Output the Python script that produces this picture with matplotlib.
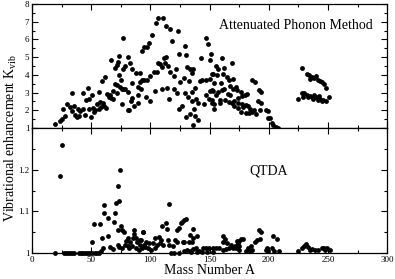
import matplotlib
matplotlib.use("Agg")
import matplotlib.pyplot as plt
from matplotlib.ticker import MultipleLocator, FuncFormatter

# ---- Data: Attenuated Phonon Method (top panel) ----
apm_A = [19.4, 23.3, 25.5, 27.8, 26.1, 29.5, 31.7, 35.1, 33.4, 36.2, 37.9, 40.7, 40.1, 43.5,
         34.0, 43.5, 46.9, 45.7, 48.5, 50.8, 48.0, 51.4, 49.7, 52.0, 53.6, 56.4, 55.3, 57.5,
         59.8, 58.1, 60.9, 62.6, 57.0, 59.2, 61.5, 63.7, 64.8, 66.0, 67.1, 68.8, 68.2, 70.5,
         72.1, 74.4, 76.1, 77.2, 75.5, 73.8, 77.2, 67.1, 73.3, 77.2, 72.1, 76.1, 81.7, 44.9,
         38.5, 70.5, 71.5, 72.5,
         106.7, 110.6, 105.0, 112.9, 116.8, 123.0, 101.0, 98.8, 97.1, 94.9, 92.6, 118.4, 129.0,
         124.6, 129.7, 146.6, 148.3, 143.2, 150.5, 81.4, 83.1, 78.6, 84.8, 87.6, 91.0, 91.5,
         93.2, 94.9, 97.1, 99.4, 103.3, 105.6, 106.7, 108.4, 109.5, 111.7, 113.4, 112.3, 115.1,
         116.8, 120.2, 121.9, 125.2, 128.1, 130.9, 133.7, 135.4, 136.0, 132.6, 141.6, 143.8,
         147.2, 150.0, 78.6, 80.9, 84.3, 84.8, 83.7, 89.3, 89.8, 92.1, 96.0, 99.9, 103.9, 109.5,
         114.0, 115.6, 119.6, 122.4, 124.1, 126.9, 129.2, 131.4, 134.8, 135.4, 137.6, 138.2,
         139.9, 137.1, 129.7, 133.1, 137.6, 139.9, 135.9, 145.0, 147.2, 149.5, 152.3, 154.0,
         81.4, 86.0, 89.8, 152.3, 152.3,
         151.3, 160.9, 168.8, 155.8, 157.5, 162.6, 161.4, 152.5, 156.4, 154.1, 159.8, 164.8,
         166.5, 169.9, 167.6, 150.2, 153.0, 157.0, 160.3, 162.0, 165.4, 169.9, 172.1, 173.3,
         176.6, 167.1, 163.2, 166.5, 170.5, 174.4, 177.8, 180.0, 181.7, 159.2, 151.9, 155.8,
         158.7, 174.4, 177.2, 178.3, 181.1, 182.8, 184.5, 185.6, 187.9, 186.2, 188.4, 191.8,
         193.5, 190.7, 193.5, 192.4, 189.0, 183.4, 180.6, 176.6, 173.8, 170.5, 169.3, 154.1,
         198.0, 199.7, 199.7, 201.4, 202.5, 203.7, 205.9, 208.2,
         228.0, 232.0, 233.6, 236.4, 238.6, 240.3, 241.5, 243.2, 245.4, 247.1, 248.8, 234.7,
         225.1, 228.0, 230.2, 232.4, 234.7, 236.4, 238.6, 240.3, 242.1, 243.7, 246.0, 248.2,
         251.0, 229.1, 233.0, 237.5, 241.5, 244.8]
apm_K = [1.23, 1.41, 1.53, 1.68, 2.06, 2.36, 2.21, 2.25, 1.95, 1.72, 1.64, 1.98, 1.68, 2.06,
         2.97, 2.97, 3.27, 2.59, 2.63, 2.89, 2.10, 2.14, 1.61, 1.91, 2.02, 2.10, 2.36, 2.48,
         2.44, 2.21, 2.25, 2.14, 3.05, 3.65, 3.88, 2.93, 2.74, 2.85, 2.70, 2.66, 3.08, 3.46,
         3.42, 3.31, 3.19, 3.23, 3.69, 3.99, 4.33, 4.84, 5.07, 6.10, 2.99, 2.38, 2.00, 1.74,
         2.10, 4.40, 4.55, 4.75,
         7.21, 7.18, 6.90, 6.76, 6.61, 6.45, 6.27, 5.81, 5.59, 5.55, 5.32, 5.93, 5.62,
         5.17, 5.10, 6.10, 5.74, 4.94, 4.82, 5.02, 4.65, 4.52, 4.33, 4.10, 4.10, 3.61,
         3.69, 3.72, 3.69, 3.95, 4.14, 4.18, 4.67, 4.63, 4.44, 4.97, 5.01, 4.67, 4.52,
         4.14, 3.91, 4.33, 3.61, 3.80, 4.44, 4.33, 4.10, 4.33, 3.65, 3.65, 3.72,
         3.69, 3.76, 3.23, 3.04, 3.53, 2.70, 2.55, 2.86, 3.34, 3.19, 2.74, 2.55, 3.08, 3.19,
         3.27, 2.66, 3.23, 3.00, 2.05, 2.24, 3.00, 2.74, 2.55, 3.04, 3.27, 2.66,
         2.40, 2.05, 1.63, 1.78, 1.67, 1.48, 1.18, 2.36, 2.86, 2.66, 2.40, 2.09,
         2.02, 2.24, 2.40, 3.15, 4.03,
         5.20, 4.94, 4.67, 4.52, 4.33, 4.37, 4.07, 4.03, 3.99, 3.54, 3.54, 3.88,
         3.73, 3.77, 3.39, 3.08, 3.08, 3.05, 3.16, 3.20, 2.93, 3.20, 3.31, 3.16,
         3.05, 2.86, 2.59, 2.48, 2.55, 2.67, 2.78, 2.86, 2.90, 2.59, 2.59, 2.86,
         2.40, 2.40, 2.33, 2.18, 2.29, 2.22, 2.06, 1.91, 2.02, 3.69, 3.61, 3.16,
         3.05, 2.55, 2.40, 2.02, 1.80, 1.87, 1.83, 1.91, 2.14, 2.22, 2.44, 2.33,
         2.02, 1.95, 1.57, 1.57, 1.30, 1.15, 1.07, 1.03,
         4.41, 4.06, 3.99, 3.88, 3.80, 3.92, 3.73, 3.65, 3.57, 3.50, 3.27, 3.76,
         2.65, 2.95, 2.95, 2.88, 2.80, 2.76, 2.84, 2.73, 2.80, 2.65, 2.61, 2.54,
         2.76, 2.76, 2.73, 2.65, 2.61, 2.54]

# ---- Data: QTDA (bottom panel) ----
qtda_A = [19.6, 27.0, 28.6, 30.3, 32.0, 33.7, 35.4, 39.3, 41.0, 42.6, 44.3, 46.0, 47.7, 49.4,
          51.1, 53.3, 55.0, 56.7, 23.3, 25.5, 74.4, 72.7,
          58.4, 60.1, 50.5, 52.8, 57.3, 59.5, 64.0, 60.6, 61.2, 64.6, 70.2, 71.3, 73.5, 69.6,
          72.4, 75.2, 76.4, 78.0, 66.3, 68.6, 72.4, 73.5, 76.4, 78.6, 79.7, 80.9, 82.0, 84.8,
          85.9, 86.5, 85.4, 87.6, 88.7, 91.0, 92.7, 94.3, 93.8, 91.5, 81.4, 83.1, 88.2, 90.4,
          115.9, 93.5, 109.8, 113.3, 113.7, 122.7, 124.4, 125.5, 126.7, 128.3, 130.1, 135.6,
          133.4, 136.2, 139.0, 92.4, 96.3, 99.1, 101.9, 104.1, 106.9, 109.2, 105.8, 108.1,
          110.9, 114.8, 115.4, 119.3, 120.4, 122.7, 127.2, 128.3, 132.8, 135.0, 95.1, 97.9,
          100.7, 103.5, 117.7, 119.9, 124.4, 128.3, 131.2, 133.4, 136.2, 138.4, 141.3, 144.1,
          146.9, 149.8, 152.6, 155.4, 158.2, 161.0, 163.8, 166.7, 169.5, 172.3, 175.1, 161.6,
          162.7, 161.0, 164.4, 167.8, 174.5, 172.9, 134.0, 139.0, 143.5, 147.5, 153.0,
          191.5, 193.2, 203.3, 207.2, 173.5, 176.3, 178.6, 171.3, 174.1, 175.2, 182.5, 185.3,
          188.1, 189.8, 192.6, 180.5, 183.9, 186.2, 197.4, 199.7, 202.5, 204.8, 208.8, 198.5,
          225.1, 227.9, 230.1, 231.8, 233.5, 236.3, 239.1, 241.9, 244.8, 247.0, 249.3, 251.5,
          234.6, 247.6]
qtda_K = [1.000, 1.000, 1.000, 1.000, 1.000, 1.000, 1.000, 1.000, 1.000, 1.000, 1.000, 1.000,
          1.000, 1.000, 1.000, 1.000, 1.000, 1.000, 1.186, 1.259, 1.199, 1.161,
          1.006, 1.011, 1.027, 1.069, 1.069, 1.037, 1.040, 1.116, 1.096, 1.084, 1.096, 1.119,
          1.125, 1.075, 1.056, 1.065, 1.056, 1.050, 1.014, 1.009, 1.020, 1.014, 1.011, 1.020,
          1.028, 1.017, 1.011, 1.017, 1.056, 1.045, 1.035, 1.035, 1.027, 1.019, 1.011, 1.020,
          1.050, 1.031, 1.037, 1.027, 1.011, 1.008,
          1.117, 1.050, 1.064, 1.072, 1.058, 1.056, 1.061, 1.071, 1.075, 1.079, 1.082, 1.058,
          1.043, 1.035, 1.042, 1.032, 1.026, 1.023, 1.024, 1.035, 1.038, 1.032, 1.019, 1.024,
          1.019, 1.032, 1.019, 1.018, 1.032, 1.027, 1.027, 1.027, 1.027, 1.027, 1.015, 1.011,
          1.008, 1.013, 1.001, 1.001, 1.001, 1.005, 1.008, 1.005, 1.010, 1.013, 1.006, 1.011,
          1.011, 1.013, 1.011, 1.013, 1.011, 1.008, 1.010, 1.011, 1.013, 1.011, 1.008, 1.040,
          1.034, 1.027, 1.023, 1.019, 1.030, 1.019, 1.002, 1.002, 1.002, 1.002, 1.002,
          1.055, 1.051, 1.041, 1.033, 1.030, 1.033, 1.033, 1.018, 1.023, 1.017, 1.013, 1.017,
          1.026, 1.032, 1.033, 1.006, 1.006, 1.008, 1.008, 1.005, 1.013, 1.005, 1.006, 1.013,
          1.006, 1.011, 1.018, 1.021, 1.014, 1.010, 1.008, 1.008, 1.011, 1.013, 1.013, 1.008,
          1.008, 1.008]

x_ticks = [0, 50, 100, 150, 200, 250, 300]
top_yticks = [1, 2, 3, 4, 5, 6, 7, 8]
bot_yticks = [1.0, 1.1, 1.2]

serif = ["Liberation Serif", "DejaVu Serif"]
plt.rcParams["font.family"] = serif
plt.rcParams["mathtext.fontset"] = "custom"
plt.rcParams["mathtext.rm"] = "Liberation Serif"

fig = plt.figure(figsize=(3.95, 2.79), dpi=100)
ax1 = fig.add_axes([0.081, 0.541, 0.899, 0.445])
ax2 = fig.add_axes([0.081, 0.093, 0.899, 0.448], sharex=ax1)

ax1.scatter(apm_A, apm_K, s=12, color="black", linewidths=0, zorder=3, clip_on=False)
ax2.scatter(qtda_A, qtda_K, s=12, color="black", linewidths=0, zorder=3, clip_on=False)

ax1.set_xlim(0, 300)
ax1.set_ylim(1, 8)
ax2.set_ylim(1, 1.3)

fmt = FuncFormatter(lambda v, p: "%g" % v)
for ax in (ax1, ax2):
    ax.set_xticks(x_ticks)
    ax.xaxis.set_minor_locator(MultipleLocator(25))
    ax.tick_params(which="both", direction="in", top=True, right=True, labelsize=6.5,
                   width=0.8, pad=2)
    ax.tick_params(which="major", length=4.5)
    ax.tick_params(which="minor", length=2.5)
    for sp in ax.spines.values():
        sp.set_linewidth(0.9)

ax1.set_yticks(top_yticks)
ax1.yaxis.set_minor_locator(MultipleLocator(0.5))
ax1.yaxis.set_major_formatter(fmt)
ax1.tick_params(labelbottom=False)

ax2.set_yticks(bot_yticks)
ax2.yaxis.set_minor_locator(MultipleLocator(0.05))
ax2.yaxis.set_major_formatter(fmt)
ax2.xaxis.set_major_formatter(fmt)

ax1.text(288, 6.8, "Attenuated Phonon Method", ha="right", va="center", fontsize=10)
ax2.text(200, 1.196, "QTDA", ha="center", va="center", fontsize=10)

ax2.set_xlabel("Mass Number A", fontsize=10, labelpad=0)
fig.text(0.028, 0.505, r"Vibrational enhancement K$_{\mathrm{vib}}$", rotation=90,
         ha="center", va="center", fontsize=10)

fig.savefig("out.png", dpi=100)
